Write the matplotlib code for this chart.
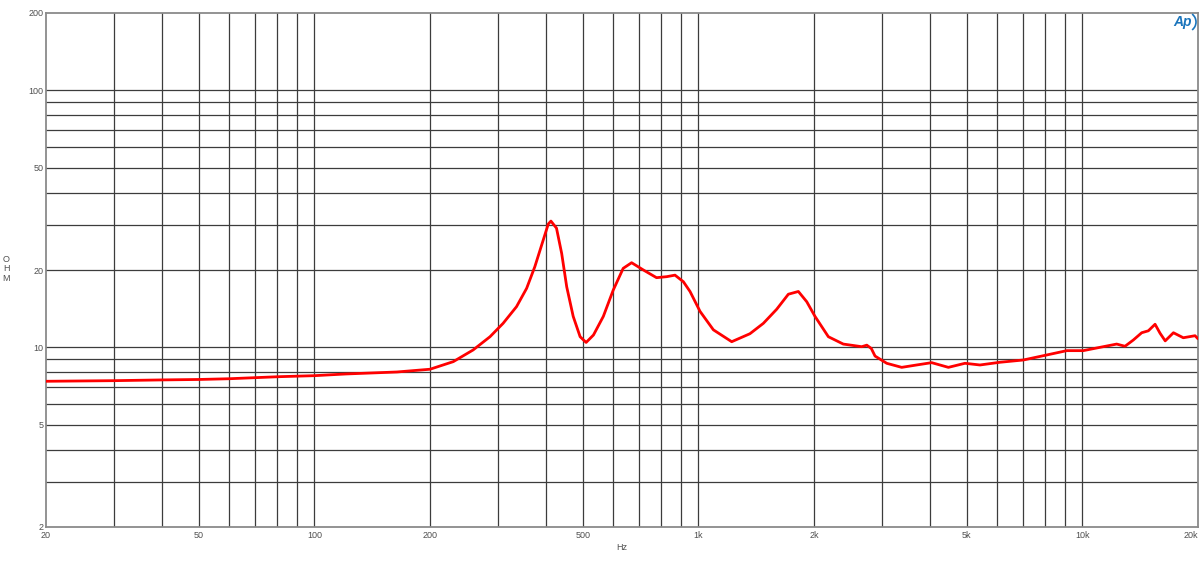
import matplotlib
matplotlib.use("Agg")
import matplotlib.pyplot as plt
from matplotlib.ticker import FixedLocator, NullLocator, FixedFormatter, NullFormatter
from matplotlib.patches import Arc

freq_hz = [20, 30, 40, 50, 60, 81, 100, 121, 164, 200, 230, 259, 286.6, 310, 336,
           357, 375, 394.5, 406.5, 413, 427, 440.5, 454, 472, 492, 510, 533, 565.5,
           600, 637, 670, 719, 778, 827, 869, 914, 951, 1010, 1094, 1221, 1362, 1476,
           1599, 1715, 1821, 1915, 2012, 2180, 2384, 2663, 2745, 2820, 2884, 3093,
           3384, 3701, 4050, 4477, 4945, 5411, 6100, 7017, 8072, 9105, 10050, 11330,
           12280, 12910, 13570, 14270, 14850, 15460, 15930, 16430, 17260, 18310,
           19650, 20000]
impedance_ohm = [7.38, 7.42, 7.47, 7.50, 7.55, 7.69, 7.76, 7.88, 8.02, 8.22, 8.80, 9.77,
                 11.0, 12.4, 14.4, 16.97, 20.6, 26.2, 30.2, 31.0, 29.1, 23.2, 17.2,
                 13.2, 11.0, 10.45, 11.17, 13.2, 16.7, 20.3, 21.35, 20.0, 18.67, 18.84,
                 19.1, 18.0, 16.5, 13.8, 11.7, 10.52, 11.3, 12.4, 14.07, 16.1, 16.5,
                 15.05, 13.2, 11.0, 10.3, 10.06, 10.2, 9.9, 9.25, 8.67, 8.36, 8.54,
                 8.72, 8.36, 8.67, 8.54, 8.75, 8.93, 9.34, 9.71, 9.71, 10.06, 10.3,
                 10.1, 10.68, 11.4, 11.6, 12.3, 11.35, 10.6, 11.4, 10.9, 11.1, 10.8]

x_grid = [30, 40, 50, 60, 70, 80, 90, 100, 200, 300, 400, 500, 600, 700, 800, 900,
          1000, 2000, 3000, 4000, 5000, 6000, 7000, 8000, 9000, 10000]
x_label_pos = [20, 50, 100, 200, 500, 1000, 2000, 5000, 10000, 20000]
x_labels = ["20", "50", "100", "200", "500", "1k", "2k", "5k", "10k", "20k"]
y_grid = [3, 4, 5, 6, 7, 8, 9, 10, 20, 30, 40, 50, 60, 70, 80, 90, 100]
y_label_pos = [2, 5, 10, 20, 50, 100, 200]
y_labels = ["2", "5", "10", "20", "50", "100", "200"]

plt.rcParams['font.family'] = ['Liberation Sans', 'DejaVu Sans']

fig = plt.figure(figsize=(12, 5.67), dpi=100)
ax = fig.add_axes([46/1200, 1 - 527/567, 1152/1200, 514/567])
ax.set_xscale('log')
ax.set_yscale('log')
ax.set_xlim(20, 20000)
ax.set_ylim(2, 200)

for xv in x_grid:
    ax.axvline(xv, color='#3c3c3c', lw=0.9, zorder=1)
for yv in y_grid:
    ax.axhline(yv, color='#3c3c3c', lw=0.9, zorder=1)

ax.plot(freq_hz, impedance_ohm, color='#ff0000', lw=2.0, zorder=3,
        solid_joinstyle='round', solid_capstyle='round')

ax.xaxis.set_major_locator(FixedLocator(x_label_pos))
ax.xaxis.set_major_formatter(FixedFormatter(x_labels))
ax.xaxis.set_minor_locator(NullLocator())
ax.xaxis.set_minor_formatter(NullFormatter())
ax.yaxis.set_major_locator(FixedLocator(y_label_pos))
ax.yaxis.set_major_formatter(FixedFormatter(y_labels))
ax.yaxis.set_minor_locator(NullLocator())
ax.yaxis.set_minor_formatter(NullFormatter())
ax.tick_params(axis='both', length=0, labelsize=6.5, labelcolor='#505050')
ax.tick_params(axis='x', pad=3)
ax.tick_params(axis='y', pad=2)

xt = ax.get_xticklabels()
xt[-1].set_horizontalalignment('right')

for s in ax.spines.values():
    s.set_color('#8a8a8a')
    s.set_linewidth(1.3)

fig.text(622/1200, 1 - 548/567, "Hz", ha='center', va='center', fontsize=6.5, color='#505050')
fig.text(6/1200, 1 - 269/567, "O\nH\nM", ha='center', va='center', fontsize=6.5,
         color='#505050', linespacing=1.1)

fig.text(1183/1200, 1 - 22/567, "Ap", ha='center', va='center', fontsize=10,
         color='#1b75bc', style='italic', fontweight='bold')
arc = Arc((1186/1200, 1 - 22/567), 20/1200, 20/567, theta1=-70, theta2=70,
          transform=fig.transFigure, color='#1b75bc', lw=1.2)
fig.add_artist(arc)

fig.savefig("out.png", dpi=100)
